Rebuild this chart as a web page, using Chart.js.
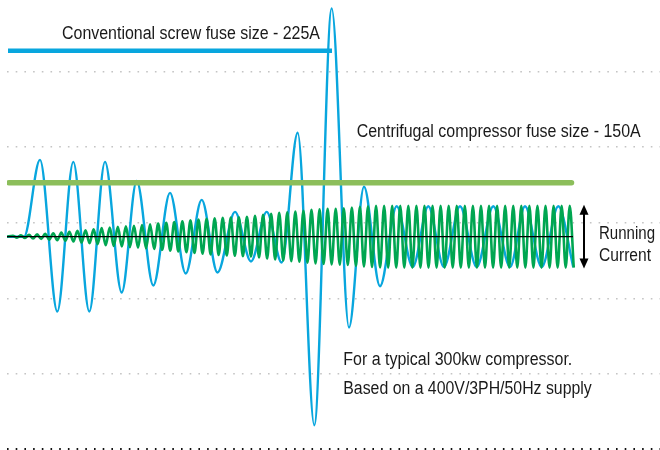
<!DOCTYPE html>
<html><head><meta charset="utf-8">
<script src="https://cdn.jsdelivr.net/npm/chart.js@4"></script>
<style>html,body{margin:0;padding:0;background:#fff;overflow:hidden}#wrap{width:660px;height:450px;position:relative}</style>
</head><body><div id="wrap"><canvas id="c" width="660" height="450"></canvas></div>
<script>
// ---- data (time in arbitrary units, current relative to zero line) ----
const blueTime = [7,24,40,57.3,73.3,89.3,105,121.7,136.7,153.3,170,185.7,201.7,217.5,235,251,266.7,281.7,297.7,314.3,331.7,349,364,380,396.7,412.7,428.3,444,460,476.7,493.3,510,525,541.7,558.3,573.3];
const blueCurrent = [0,0,76.8,-74.8,74.8,-74.8,74.8,-55.8,55.8,-48.8,43.8,-36.8,36.8,-35.8,24.8,-24.8,24.8,-25.8,104,-188.5,228.3,-90.8,50,-49.5,30.5,-30.4,30.5,-30.4,30.5,-30.4,30.5,-30.4,30.5,-30.4,30.5,-30.4];

const greenStartTime = 7;
const greenFirstPeakTime = 12.9;
const greenCycleTime = 8.07;
const greenPeaks = [1,1.3,1.8,2.3,2.9,3.5,4.1,4.8,5.8,6.5,7.4,8.6,9.2,9.8,10.4,11,11.7,12.3,13.1,13.9,14.7,15.5,16.3,17.1,17.8,18.3,18.8,19.1,19.5,19.8,20.8,21.8,22.8,23.8,24.5,25.1,26,26.8,27.3,27.8,28,28.3,29.1,29.8,30.3,30.8,31,31,31,31,31,31,31,31,31,31,31,31,31,31,31,31,31,31,31,31,31,31,31,31];

const fuseNames = ['Conventional screw fuse size - 225A','Centrifugal compressor fuse size - 150A'];
const fuseLevels = [186, 54];
const fuseFrom = [8, 8.75];
const fuseTo = [332, 571.5];

const runningFrom = 7, runningTo = 573;
const gridValues = [-212.3,-136.6,-61.6,14,89.7,164.7];
const yMin = -212.3, yMax = 236.7, xMin = 7, xMax = 660;

// ---- build tables for the library ----
const blueData = blueTime.map((t,i)=>({x:t,y:blueCurrent[i]}));
const greenData = [{x:greenStartTime,y:0}];
greenPeaks.forEach((a,k)=>{
  const t = greenFirstPeakTime + k*greenCycleTime;
  greenData.push({x:t,y:a});
  greenData.push({x:t+greenCycleTime/2,y:-a});
});

const BLUE='#08A6DE', GREEN='#00A651', LGREEN='#8CBE5B', TXT='#1a1a1a';

const notes = [
 {text:fuseNames[0], x:62, y:39.3, w:258},
 {text:fuseNames[1], x:356.7, y:136.7, w:284},
 {text:'Running', x:599, y:239.3, w:56},
 {text:'Current', x:599, y:260.7, w:52},
 {text:'For a typical 300kw compressor.', x:343.3, y:365, w:229},
 {text:'Based on a 400V/3PH/50Hz supply', x:343.3, y:394.3, w:248.4},
];
const FAMILY = "'Liberation Sans',Arial,sans-serif";
const FONT_PX = 18.8;

const annot = {
  id:'annot',
  afterDraw(chart){
    const ctx = chart.ctx;
    ctx.save();
    ctx.fillStyle = TXT;
    ctx.textBaseline = 'alphabetic';
    ctx.textAlign = 'left';
    ctx.font = `${FONT_PX}px ${FAMILY}`;
    notes.forEach(n=>{
      const w = ctx.measureText(n.text).width;
      const sx = n.w/w;
      ctx.save();
      ctx.translate(n.x, n.y);
      ctx.scale(sx, 1);
      ctx.fillText(n.text, 0, 0);
      ctx.restore();
    });
    // running current arrow
    const ys = chart.scales.y;
    const ax = 584;
    const amp = greenPeaks[greenPeaks.length-1] + 0.9;
    const top = ys.getPixelForValue(amp), bot = ys.getPixelForValue(-amp);
    const hl = 10, hw = 4.5;
    ctx.strokeStyle = '#000'; ctx.fillStyle = '#000'; ctx.lineWidth = 2;
    ctx.beginPath(); ctx.moveTo(ax, top+hl-1); ctx.lineTo(ax, bot-hl+1); ctx.stroke();
    ctx.beginPath(); ctx.moveTo(ax, top); ctx.lineTo(ax-hw, top+hl); ctx.lineTo(ax+hw, top+hl); ctx.closePath(); ctx.fill();
    ctx.beginPath(); ctx.moveTo(ax, bot); ctx.lineTo(ax-hw, bot-hl); ctx.lineTo(ax+hw, bot-hl); ctx.closePath(); ctx.fill();
    ctx.restore();
  }
};

new Chart(document.getElementById('c'), {
  type:'line',
  data:{datasets:[
    {label:'Running current', data:[{x:runningFrom,y:0},{x:runningTo,y:0}], borderColor:'#000', borderWidth:1.2, pointRadius:0, order:0},
    {label:fuseNames[1], data:[{x:fuseFrom[1],y:fuseLevels[1]},{x:fuseTo[1],y:fuseLevels[1]}], borderColor:LGREEN, borderWidth:5.5, borderCapStyle:'round', pointRadius:0, order:1},
    {label:'Centrifugal', data:greenData, borderColor:GREEN, borderWidth:2.6, pointRadius:0, cubicInterpolationMode:'monotone', order:2},
    {label:'Screw', data:blueData, borderColor:BLUE, borderWidth:2.4, pointRadius:0, cubicInterpolationMode:'monotone', order:3},
    {label:fuseNames[0], data:[{x:fuseFrom[0],y:fuseLevels[0]},{x:fuseTo[0],y:fuseLevels[0]}], borderColor:BLUE, borderWidth:4.6, borderCapStyle:'butt', pointRadius:0, order:4},
  ]},
  options:{
    responsive:false, animation:false, events:[],
    layout:{padding:{left:7,right:0,top:0,bottom:1}},
    plugins:{legend:{display:false},tooltip:{enabled:false}},
    scales:{
      x:{type:'linear', min:xMin, max:xMax, display:false},
      y:{type:'linear', min:yMin, max:yMax,
         afterBuildTicks:(s)=>{ s.ticks = gridValues.map(v=>({value:v})); },
         ticks:{display:false},
         grid:{drawTicks:false, color:(c)=> c.tick && c.tick.value===yMin ? '#111' : '#c4c4c4',
               lineWidth:(c)=> c.tick && c.tick.value===yMin ? 2.2 : 1.4},
         border:{display:false, dash:[1.6,7.1]}
      }
    }
  },
  plugins:[annot]
});
</script>
</body></html>
